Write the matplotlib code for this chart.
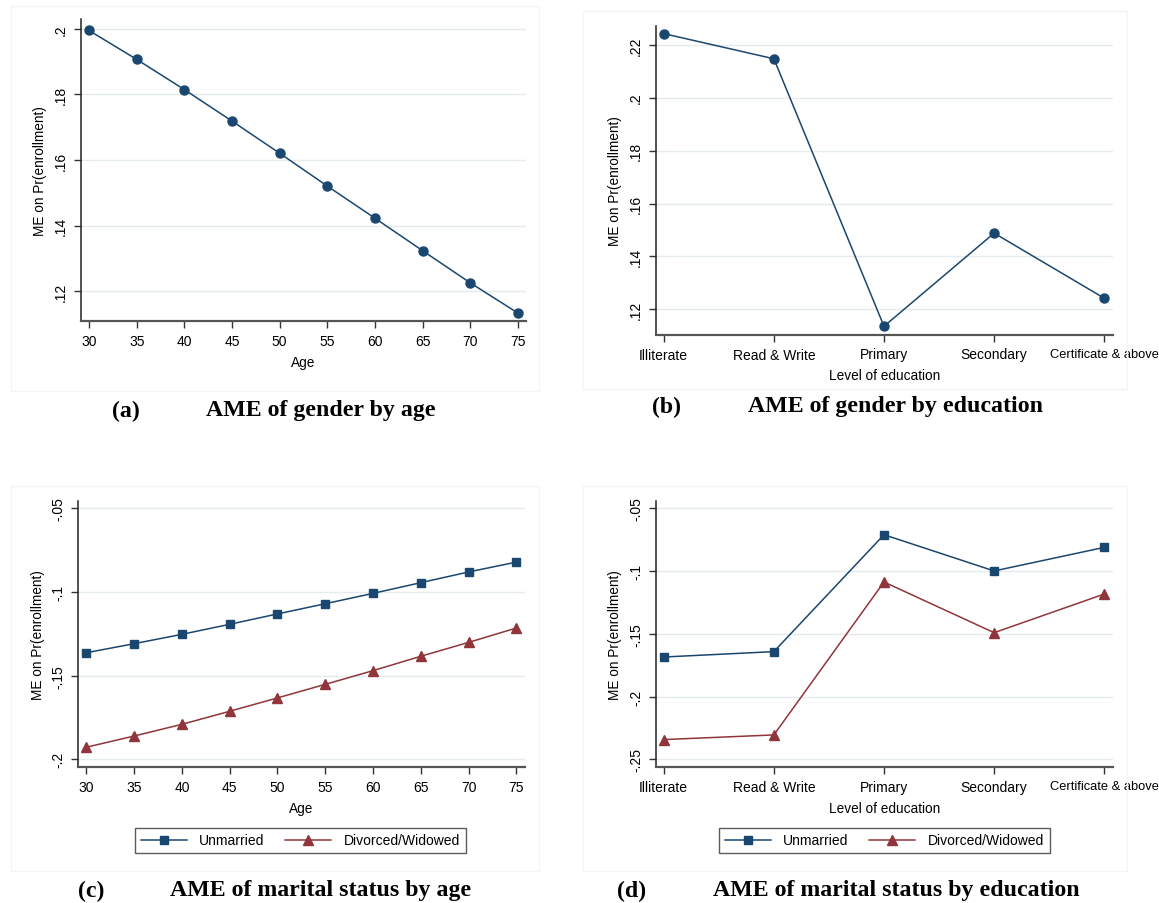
import matplotlib
matplotlib.use("Agg")
import matplotlib.pyplot as plt
from matplotlib.patches import Rectangle
from matplotlib.ticker import FuncFormatter

# ---------------- data ----------------
ages = [30, 35, 40, 45, 50, 55, 60, 65, 70, 75]
gender_by_age = [0.1995, 0.1907, 0.1815, 0.1719, 0.1621, 0.1521, 0.1423, 0.1324, 0.1226, 0.1134]

edu_levels = ["Illiterate", "Read & Write", "Primary", "Secondary", "Certificate & above"]
gender_by_edu = [0.2242, 0.2147, 0.1136, 0.1488, 0.1242]

unmarried_by_age = [-0.1363, -0.1309, -0.1253, -0.1193, -0.1131, -0.1070, -0.1008, -0.0944, -0.0880, -0.0821]
divorced_by_age = [-0.1928, -0.1861, -0.1791, -0.1713, -0.1633, -0.1552, -0.1470, -0.1384, -0.1301, -0.1215]

unmarried_by_edu = [-0.1685, -0.1642, -0.0710, -0.0999, -0.0811]
divorced_by_edu = [-0.2343, -0.2306, -0.1087, -0.1491, -0.1183]

series_labels = ["Unmarried", "Divorced/Widowed"]
captions = [("(a)", "AME of gender by age"),
            ("(b)", "AME of gender by education"),
            ("(c)", "AME of marital status by age"),
            ("(d)", "AME of marital status by education")]

# ---------------- style ----------------
NAVY = "#1a476f"
MAROON = "#90353b"
GRID = "#e4ecef"
W, H = 1159, 904

plt.rcParams["font.family"] = ["Liberation Sans", "DejaVu Sans"]
fig = plt.figure(figsize=(W / 100, H / 100), dpi=100)
fig.patch.set_facecolor("white")


def px_rect(x0, y0, x1, y1):
    return [x0 / W, 1 - y1 / H, (x1 - x0) / W, (y1 - y0) / H]


# faint panel frames
for (x0, y0, x1, y1) in [(11, 7, 539, 392), (583, 12, 1127, 390),
                         (11, 487, 539, 872), (583, 487, 1127, 872)]:
    fig.add_artist(Rectangle((x0 / W, 1 - y1 / H), (x1 - x0) / W, (y1 - y0) / H,
                             transform=fig.transFigure, fill=False,
                             edgecolor="#f3f6f7", linewidth=1.0))


def stata_fmt(v, pos):
    s = ("%.2f" % v).rstrip("0").rstrip(".")
    s = s.replace("0.", ".")
    return s


def style(ax, yticks, ylim, xlabel):
    ax.set_ylim(*ylim)
    ax.set_yticks(yticks)
    ax.yaxis.set_major_formatter(FuncFormatter(stata_fmt))
    ax.grid(axis="y", color=GRID, linewidth=1.0)
    ax.set_axisbelow(True)
    for s in ["top", "right"]:
        ax.spines[s].set_visible(False)
    ax.spines["left"].set_color("#222222")
    ax.spines["left"].set_linewidth(1.1)
    ax.spines["bottom"].set_color("#555555")
    ax.spines["bottom"].set_linewidth(1.6)
    ax.tick_params(axis="both", direction="out", length=5, width=1.0,
                   color="#333333", labelsize=10, pad=4)
    ax.tick_params(axis="y", labelrotation=90)
    for lab in ax.get_yticklabels():
        lab.set_va("center")
    ax.set_ylabel("ME on Pr(enrollment)", fontsize=9.8, labelpad=5)
    ax.set_xlabel(xlabel, fontsize=9.8, labelpad=5)


def edu_ticks(ax):
    ax.set_xticks(xe)
    ax.set_xticklabels(edu_levels)
    # last label sits at the right figure edge; keep it fully inside
    ax.get_xticklabels()[-1].set_fontsize(9.3)


# (a)
ax_a = fig.add_axes(px_rect(80.7, 20, 526, 322.3))
ax_a.plot(ages, gender_by_age, color=NAVY, lw=1.1, marker="o", ms=6.5)
ax_a.set_xlim(29.13, 75.84)
ax_a.set_xticks(ages)
style(ax_a, [0.12, 0.14, 0.16, 0.18, 0.2], (0.1109, 0.2030), "Age")

# (b)
xe = list(range(len(edu_levels)))
ax_b = fig.add_axes(px_rect(655.7, 26.7, 1113.3, 336))
ax_b.plot(xe, gender_by_edu, color=NAVY, lw=1.1, marker="o", ms=6.5)
ax_b.set_xlim(-0.073, 4.082)
style(ax_b, [0.12, 0.14, 0.16, 0.18, 0.2, 0.22], (0.1103, 0.2272), "Level of education")
edu_ticks(ax_b)

# (c)
ax_c = fig.add_axes(px_rect(78.0, 501.7, 524.5, 768.3))
ax_c.plot(ages, unmarried_by_age, color=NAVY, lw=1.1, marker="s", ms=5.8, label=series_labels[0])
ax_c.plot(ages, divorced_by_age, color=MAROON, lw=1.1, marker="^", ms=6.5, label=series_labels[1])
ax_c.set_xlim(29.13, 75.84)
ax_c.set_xticks(ages)
style(ax_c, [-0.2, -0.15, -0.1, -0.05], (-0.2048, -0.0454), "Age")

# (d)
ax_d = fig.add_axes(px_rect(655.7, 501.7, 1113.3, 768.3))
ax_d.plot(xe, unmarried_by_edu, color=NAVY, lw=1.1, marker="s", ms=5.8, label=series_labels[0])
ax_d.plot(xe, divorced_by_edu, color=MAROON, lw=1.1, marker="^", ms=6.5, label=series_labels[1])
ax_d.set_xlim(-0.073, 4.082)
style(ax_d, [-0.25, -0.2, -0.15, -0.1, -0.05], (-0.2564, -0.0439), "Level of education")
edu_ticks(ax_d)

# legends
for ax, cx in [(ax_c, 300.5), (ax_d, 884.4)]:
    leg = ax.legend(loc="center", bbox_to_anchor=(cx / W, 1 - 841.4 / H),
                    bbox_transform=fig.transFigure, ncol=2, fontsize=10,
                    frameon=True, fancybox=False, shadow=False,
                    handlelength=3.3, handletextpad=0.9, columnspacing=1.5,
                    borderpad=0.4, borderaxespad=0)
    leg.get_frame().set_edgecolor("#333333")
    leg.get_frame().set_linewidth(1.0)

# captions
cap_pos = [((126, 411), (321, 411)),
           ((666, 407), (896, 407)),
           ((91, 891), (321, 891)),
           ((632, 891), (896, 891))]
for (lab, title), ((lx, ly), (tx, ty)) in zip(captions, cap_pos):
    fig.text(lx / W, 1 - ly / H, lab, ha="center", va="center",
             family=["Liberation Serif", "DejaVu Serif"], weight="bold", fontsize=17.2)
    fig.text(tx / W, 1 - ty / H, title, ha="center", va="center",
             family=["Liberation Serif", "DejaVu Serif"], weight="bold", fontsize=17.2)

fig.savefig("out.png", dpi=100, facecolor="white")
